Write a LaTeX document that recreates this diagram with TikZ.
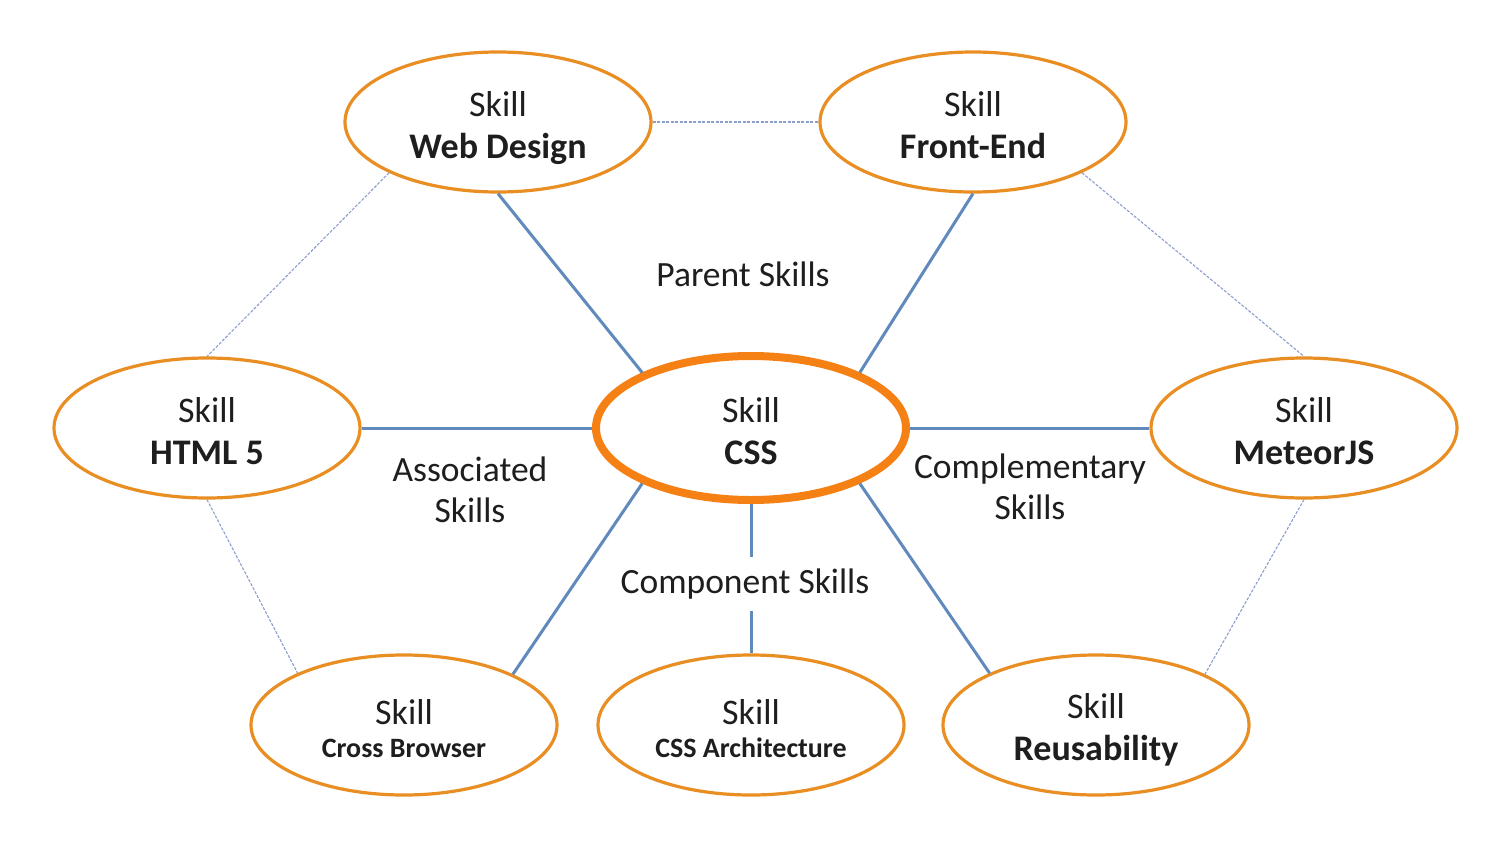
\documentclass[tikz,border=0pt]{standalone}
\usepackage{fontspec}
\setmainfont{Carlito}
\usetikzlibrary{shapes.geometric}
\definecolor{ringorange}{RGB}{233,142,34}
\definecolor{cssorange}{RGB}{245,128,20}
\definecolor{linkblue}{RGB}{96,138,188}
\definecolor{dotblue}{RGB}{140,158,205}
\definecolor{txt}{RGB}{30,30,30}
\tikzset{
  skill/.style={ellipse, draw=ringorange, line width=3.2pt, fill=white,
    minimum width=306pt, minimum height=140pt, inner sep=0pt},
  mainskill/.style={skill, draw=cssorange, line width=8pt, minimum width=310pt, minimum height=144pt},
  skilltext/.style={yshift=-6pt, align=center, text=txt, inner sep=0pt,
    font=\fontsize{36}{42}\selectfont},
  smalltext/.style={skilltext, yshift=2.5pt, font=\fontsize{28}{36}\selectfont},
  link/.style={draw=linkblue, line width=3pt},
  dotlink/.style={draw=dotblue, line width=1.1pt, dash pattern=on 3pt off 1.5pt},
  lbl/.style={text=txt, align=center, font=\fontsize{35.5}{41}\selectfont, inner sep=0pt}
}
\begin{document}
\begin{tikzpicture}[x=1pt,y=-1pt]
\useasboundingbox (0,0) rectangle (1500,841);
\fill[white] (0,0) rectangle (1500,841);

\node[skill, label={[skilltext]center:Skill\\\textbf{Web Design}}] (wd) at (498,122) {};
\node[skill, label={[skilltext, yshift=3pt]center:Skill\\\textbf{Front-End}}] (fe) at (973,122) {};
\node[skill, label={[skilltext, yshift=3pt]center:Skill\\\textbf{HTML 5}}] (html) at (207,428) {};
\node[mainskill, label={[skilltext, yshift=3pt]center:Skill\\\textbf{CSS}}] (css) at (751,428) {};
\node[skill, label={[skilltext, yshift=3pt]center:Skill\\\textbf{MeteorJS}}] (mj) at (1304,428) {};
\node[skill, label={[smalltext]center:{\fontsize{36}{36}\selectfont Skill}\\[-3pt]\textbf{Cross Browser}}] (cb) at (404,725) {};
\node[skill, label={[smalltext]center:{\fontsize{36}{36}\selectfont Skill}\\[-3pt]\textbf{CSS Architecture}}] (ca) at (751,725) {};
\node[skill, label={[skilltext, yshift=1pt]center:Skill\\\textbf{Reusability}}] (re) at (1096,725) {};

\node[lbl] (parent) at (743,274) {Parent Skills};
\node[lbl] (assoc) at (470,490) {Associated\\Skills};
\node[lbl] (compl) at (1030,487) {Complementary\\Skills};
\node[lbl, inner xsep=4pt, inner ysep=12pt] (comp) at (745,584) {Component Skills};

% solid links
\draw[link] (wd.south) -- (css.153);
\draw[link] (fe.south) -- (css.27);
\draw[link] (html.east) -- (css.west);
\draw[link] (css.east) -- (mj.west);
\draw[link] (css.207) -- (cb.25);
\draw[link] (css.-27) -- (re.154);
\draw[link] (css.south) -- (css.south |- comp.north);
\draw[link] (css.south |- comp.south) -- (ca.north);

% dotted links
\draw[dotlink] (wd.east) -- (fe.west);
\draw[dotlink] (wd.205) -- (html.north);
\draw[dotlink] (fe.-25) -- (mj.north);
\draw[dotlink] (html.south) -- (cb.154);
\draw[dotlink] (mj.south) -- (re.25);
\end{tikzpicture}
\end{document}
